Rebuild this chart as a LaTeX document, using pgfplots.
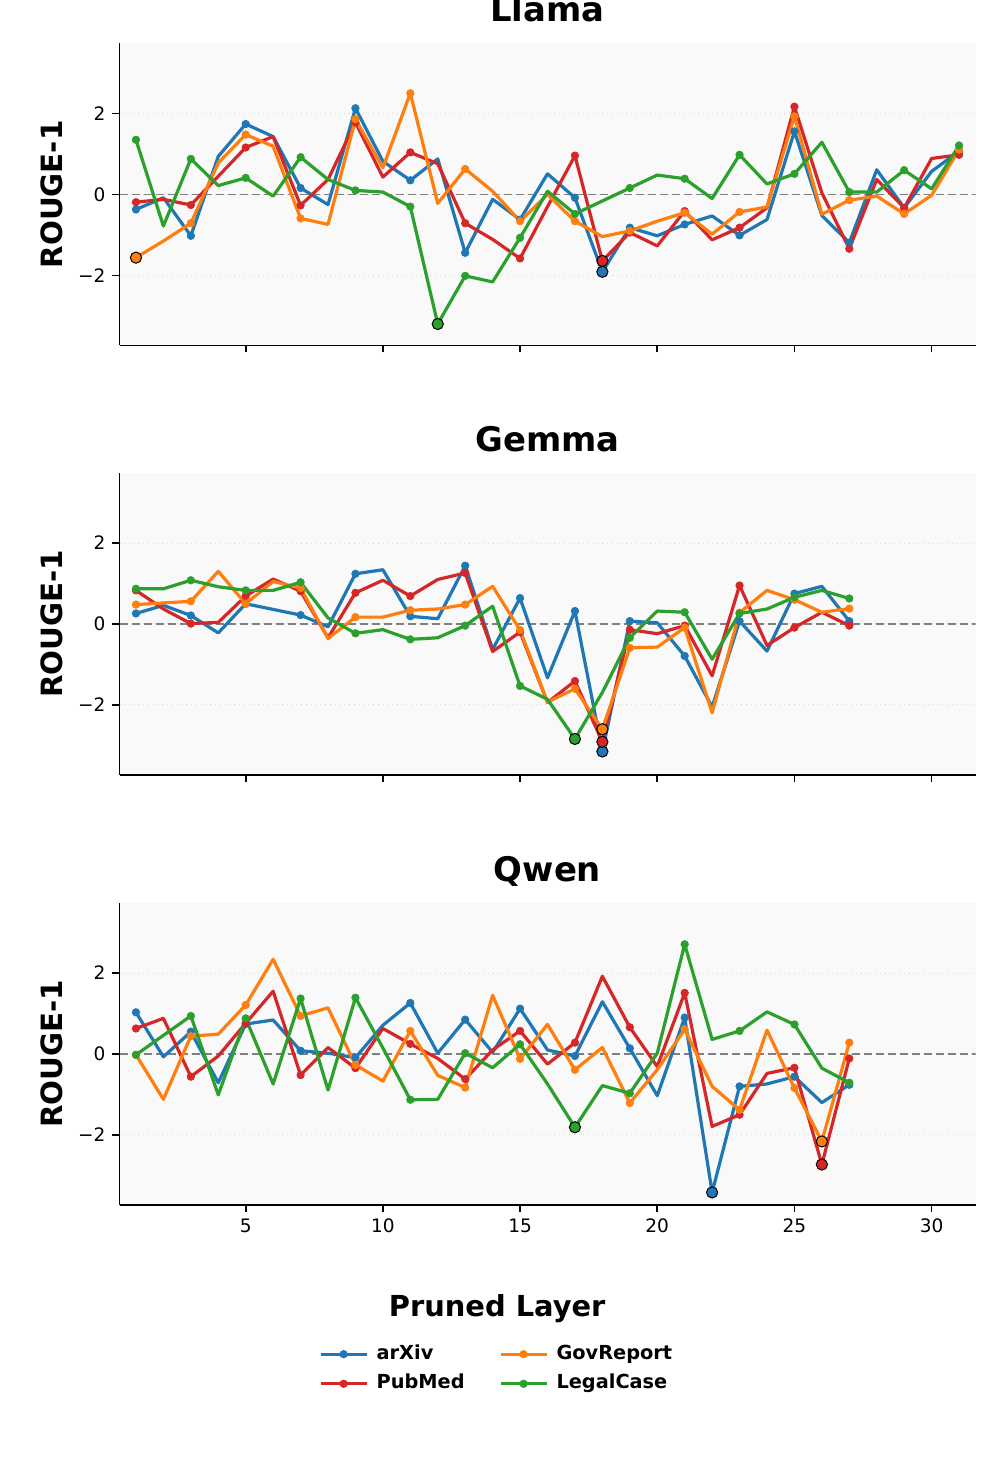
\documentclass[border=0pt]{standalone}
\usepackage{fontspec}
\setmainfont{DejaVu Sans}
\usepackage{pgfplots}
\pgfplotsset{compat=1.18}
\usepackage{pgfplotstable}

\definecolor{cA}{HTML}{1F77B4}
\definecolor{cG}{HTML}{FF7F0E}
\definecolor{cL}{HTML}{2CA02C}
\definecolor{cP}{HTML}{D62728}
\definecolor{bgc}{HTML}{F9F9F9}
\definecolor{zl}{HTML}{808080}

\pgfplotstableread{
x arxiv pubmed gov legal
1 -0.37 -0.19 -1.56 1.35
2 -0.08 -0.12 -1.15 -0.78
3 -1.02 -0.26 -0.71 0.88
4 0.94 0.45 0.78 0.22
5 1.74 1.16 1.48 0.41
6 1.43 1.43 1.19 -0.04
7 0.16 -0.27 -0.59 0.92
8 -0.25 0.37 -0.74 0.37
9 2.13 1.78 1.86 0.10
10 0.82 0.43 0.66 0.06
11 0.35 1.04 2.50 -0.30
12 0.88 0.76 -0.22 -3.20
13 -1.44 -0.71 0.63 -2.01
14 -0.12 -1.11 0.08 -2.16
15 -0.62 -1.58 -0.66 -1.07
16 0.51 -0.30 0.00 0.08
17 -0.08 0.96 -0.66 -0.48
18 -1.91 -1.64 -1.04 -0.16
19 -0.82 -0.94 -0.90 0.16
20 -1.02 -1.27 -0.66 0.48
21 -0.74 -0.41 -0.45 0.39
22 -0.53 -1.12 -0.98 -0.10
23 -1.01 -0.82 -0.43 0.98
24 -0.62 -0.33 -0.31 0.26
25 1.56 2.17 1.93 0.51
26 -0.52 0.04 -0.49 1.29
27 -1.19 -1.34 -0.14 0.06
28 0.61 0.37 -0.04 0.06
29 -0.33 -0.33 -0.48 0.60
30 0.57 0.89 -0.02 0.14
31 1.07 0.98 1.11 1.21
}\llama

\pgfplotstableread{
x arxiv pubmed gov legal
1 0.26 0.83 0.48 0.87
2 0.46 0.37 0.52 0.87
3 0.21 0.01 0.56 1.08
4 -0.22 0.04 1.30 0.92
5 0.50 0.69 0.50 0.83
6 0.36 1.11 1.05 0.83
7 0.22 0.81 0.89 1.03
8 -0.07 -0.34 -0.36 0.15
9 1.24 0.77 0.17 -0.23
10 1.34 1.08 0.17 -0.14
11 0.19 0.69 0.34 -0.38
12 0.13 1.10 0.37 -0.34
13 1.44 1.26 0.48 -0.04
14 -0.63 -0.68 0.93 0.44
15 0.64 -0.20 -0.15 -1.53
16 -1.33 -1.94 -1.93 -1.86
17 0.32 -1.41 -1.60 -2.84
18 -3.15 -2.91 -2.60 -1.69
19 0.07 -0.14 -0.59 -0.34
20 0.03 -0.24 -0.57 0.32
21 -0.79 -0.04 -0.09 0.29
22 -2.05 -1.28 -2.19 -0.87
23 0.07 0.95 0.28 0.26
24 -0.67 -0.53 0.83 0.37
25 0.75 -0.09 0.60 0.66
26 0.93 0.29 0.29 0.83
27 0.07 -0.04 0.38 0.63
}\gemma

\pgfplotstableread{
x arxiv pubmed gov legal
1 1.03 0.63 -0.02 -0.02
2 -0.07 0.88 -1.12 0.46
3 0.55 -0.56 0.44 0.94
4 -0.71 -0.05 0.49 -1.01
5 0.74 0.76 1.21 0.88
6 0.84 1.55 2.34 -0.74
7 0.08 -0.52 0.94 1.37
8 0.02 0.16 1.14 -0.89
9 -0.09 -0.35 -0.27 1.39
10 0.71 0.63 -0.67 0.15
11 1.26 0.25 0.57 -1.13
12 0.02 -0.11 -0.53 -1.12
13 0.85 -0.62 -0.83 0.02
14 0.04 0.10 1.45 -0.34
15 1.12 0.57 -0.12 0.24
16 0.10 -0.25 0.73 -0.74
17 -0.05 0.28 -0.39 -1.81
18 1.29 1.92 0.16 -0.78
19 0.14 0.66 -1.21 -0.97
20 -1.03 -0.31 -0.39 0.02
21 0.90 1.51 0.61 2.71
22 -3.42 -1.79 -0.80 0.36
23 -0.80 -1.50 -1.38 0.57
24 -0.74 -0.48 0.59 1.04
25 -0.56 -0.34 -0.84 0.73
26 -1.20 -2.73 -2.16 -0.35
27 -0.76 -0.11 0.28 -0.71
}\qwen

\pgfplotsset{
  every axis title shift=0pt,
  panel/.style={
    width=428bp, height=151bp, scale only axis,
    xmin=0.4, xmax=31.6, ymin=-3.73, ymax=3.73,
    axis x line*=bottom, axis y line*=left,
    axis line style={line width=0.8bp, black},
    xtick={5,10,15,20,25,30},
    ytick={-2,0,2}, yticklabels={−2,0,2},
    tick align=outside, major tick length=3.5bp,
    every tick/.style={line width=0.8bp, black},
    ymajorgrids, grid style={dotted, line width=0.5bp, color=black!15},
    axis background/.style={fill=bgc},
    ticklabel style={font=\fontsize{9.3}{11}\selectfont},
    /pgf/number format/assume math mode=true,
    title style={font=\fontsize{17}{20}\selectfont\bfseries, at={(0.5,1)}, anchor=base, yshift=10.75bp},
    ylabel={ROUGE-1},
    ylabel style={font=\fontsize{14.7}{17}\selectfont\bfseries, at={(axis description cs:-0.0789,0.5)}, anchor=center},
  },
  ser/.style={line width=1.6bp, line join=round, mark=*, mark size=1.9bp, mark repeat=2, mark phase=1, mark options={solid, line width=0.3bp}},
  minpt/.style={only marks, forget plot, mark=*, mark size=2.8bp, mark options={draw=black, line width=0.5bp, fill=#1}},
  zero/.style={forget plot, color=zl, line width=0.8bp, dash pattern=on 4bp off 2bp},
}

\begin{document}
\begin{tikzpicture}
% Llama
\begin{axis}[panel, at={(59.75bp,562.25bp)}, anchor=south west, title={Llama}, xticklabels={}]
\addplot[zero] coordinates {(0.4,0) (31.6,0)};
\addplot[ser, cA] table[x=x,y=arxiv]{\llama};
\addplot[ser, cP] table[x=x,y=pubmed]{\llama};
\addplot[ser, cG] table[x=x,y=gov]{\llama};
\addplot[ser, cL] table[x=x,y=legal]{\llama};
\addplot[minpt=cA] coordinates {(18,-1.91)};
\addplot[minpt=cP] coordinates {(18,-1.64)};
\addplot[minpt=cG] coordinates {(1,-1.56)};
\addplot[minpt=cL] coordinates {(12,-3.20)};
\end{axis}
% Gemma
\begin{axis}[panel, at={(59.75bp,347.5bp)}, anchor=south west, title={Gemma}, xticklabels={}]
\addplot[zero] coordinates {(0.4,0) (31.6,0)};
\addplot[ser, cA] table[x=x,y=arxiv]{\gemma};
\addplot[ser, cP] table[x=x,y=pubmed]{\gemma};
\addplot[ser, cG] table[x=x,y=gov]{\gemma};
\addplot[ser, cL] table[x=x,y=legal]{\gemma};
\addplot[minpt=cA] coordinates {(18,-3.15)};
\addplot[minpt=cP] coordinates {(18,-2.91)};
\addplot[minpt=cG] coordinates {(18,-2.60)};
\addplot[minpt=cL] coordinates {(17,-2.84)};
\end{axis}
% Qwen
\begin{axis}[panel, at={(59.75bp,132.5bp)}, anchor=south west, title={Qwen},
  xlabel={Pruned Layer},
  xlabel style={font=\fontsize{14.5}{17}\selectfont\bfseries, at={(axis description cs:0.4412,-0.3699)}, anchor=base},
  legend style={at={(axis description cs:0.4408,-0.543)}, anchor=center, draw=none, fill=none,
    font=\fontsize{9.7}{11}\selectfont\bfseries,
    nodes={text height=7.2bp, text depth=2bp, inner sep=1.2bp},
    /tikz/every odd column/.append style={column sep=3bp},
    /tikz/every even column/.append style={column sep=16bp},
    row sep=3.2bp},
  legend columns=2, legend cell align=left,
  legend image code/.code={\draw[#1, mark repeat=2, mark phase=2] plot coordinates {(0bp,0bp) (11.5bp,0bp) (23bp,0bp)};},
]
\addlegendimage{ser, cA}\addlegendentry{arXiv}
\addlegendimage{ser, cG}\addlegendentry{GovReport}
\addlegendimage{ser, cP}\addlegendentry{PubMed}
\addlegendimage{ser, cL}\addlegendentry{LegalCase}
\addplot[zero] coordinates {(0.4,0) (31.6,0)};
\addplot[ser, cA, forget plot] table[x=x,y=arxiv]{\qwen};
\addplot[ser, cP, forget plot] table[x=x,y=pubmed]{\qwen};
\addplot[ser, cG, forget plot] table[x=x,y=gov]{\qwen};
\addplot[ser, cL, forget plot] table[x=x,y=legal]{\qwen};
\addplot[minpt=cA] coordinates {(22,-3.42)};
\addplot[minpt=cP] coordinates {(26,-2.73)};
\addplot[minpt=cG] coordinates {(26,-2.16)};
\addplot[minpt=cL] coordinates {(17,-1.81)};
\end{axis}
\pgfresetboundingbox
\useasboundingbox (0,0) rectangle (498bp,735bp);
\end{tikzpicture}
\end{document}
